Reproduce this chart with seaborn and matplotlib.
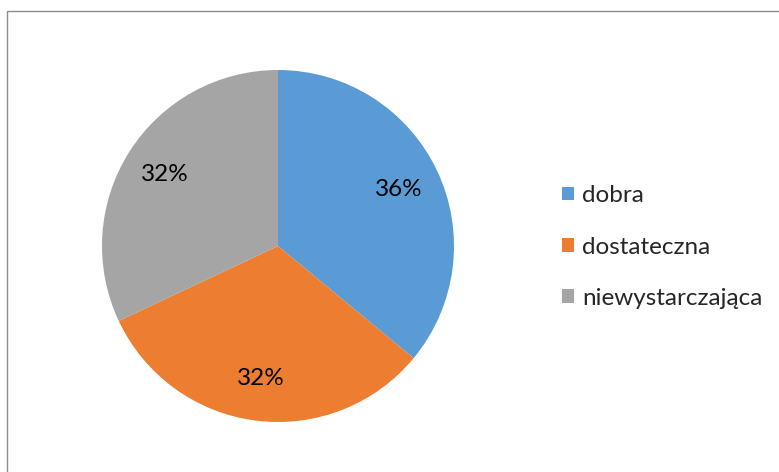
import matplotlib
matplotlib.use("Agg")
import matplotlib.pyplot as plt
import seaborn as sns
from matplotlib.patches import Rectangle

# chart data
categories = ["dobra", "dostateczna", "niewystarczająca"]
shares = [36, 32, 32]
colors = ["#5B9BD5", "#ED7D31", "#A5A5A5"]

sns.set_theme(style="white")
plt.rcParams['font.family'] = ['Lato', 'DejaVu Sans']

W, H = 779, 472
fig = plt.figure(figsize=(W / 100, H / 100), dpi=100)

# pie centre ~ (278, 246) px, radius ~176 px
cx, cy, r = 278, 246, 176
ax = fig.add_axes([(cx - r) / W, (H - cy - r) / H, 2 * r / W, 2 * r / H])
wedges, _, autotexts = ax.pie(
    shares, colors=colors, startangle=90, counterclock=False,
    autopct=lambda p: f"{p:.0f}%", pctdistance=0.76,
    wedgeprops=dict(linewidth=0),
    textprops=dict(fontsize=17.5, color="black"),
)
ax.set_xlim(-1, 1)
ax.set_ylim(-1, 1)
ax.set_aspect("equal")
ax.axis("off")

leg = fig.legend(
    wedges, categories, loc="center left",
    bbox_to_anchor=(540 / W, 1 - 247 / H), frameon=False,
    fontsize=17.5, handlelength=0.48, handleheight=0.48, handletextpad=0.35,
    labelspacing=1.25,
)

# outer chart border (only left and top visible in the crop)
fig.patches.append(Rectangle((7 / W, -0.1), 1.2, 1 - 11 / H + 0.1,
                             transform=fig.transFigure, fill=False,
                             edgecolor="#8C8C8C", linewidth=1.0))

fig.savefig("out.png", dpi=100)
